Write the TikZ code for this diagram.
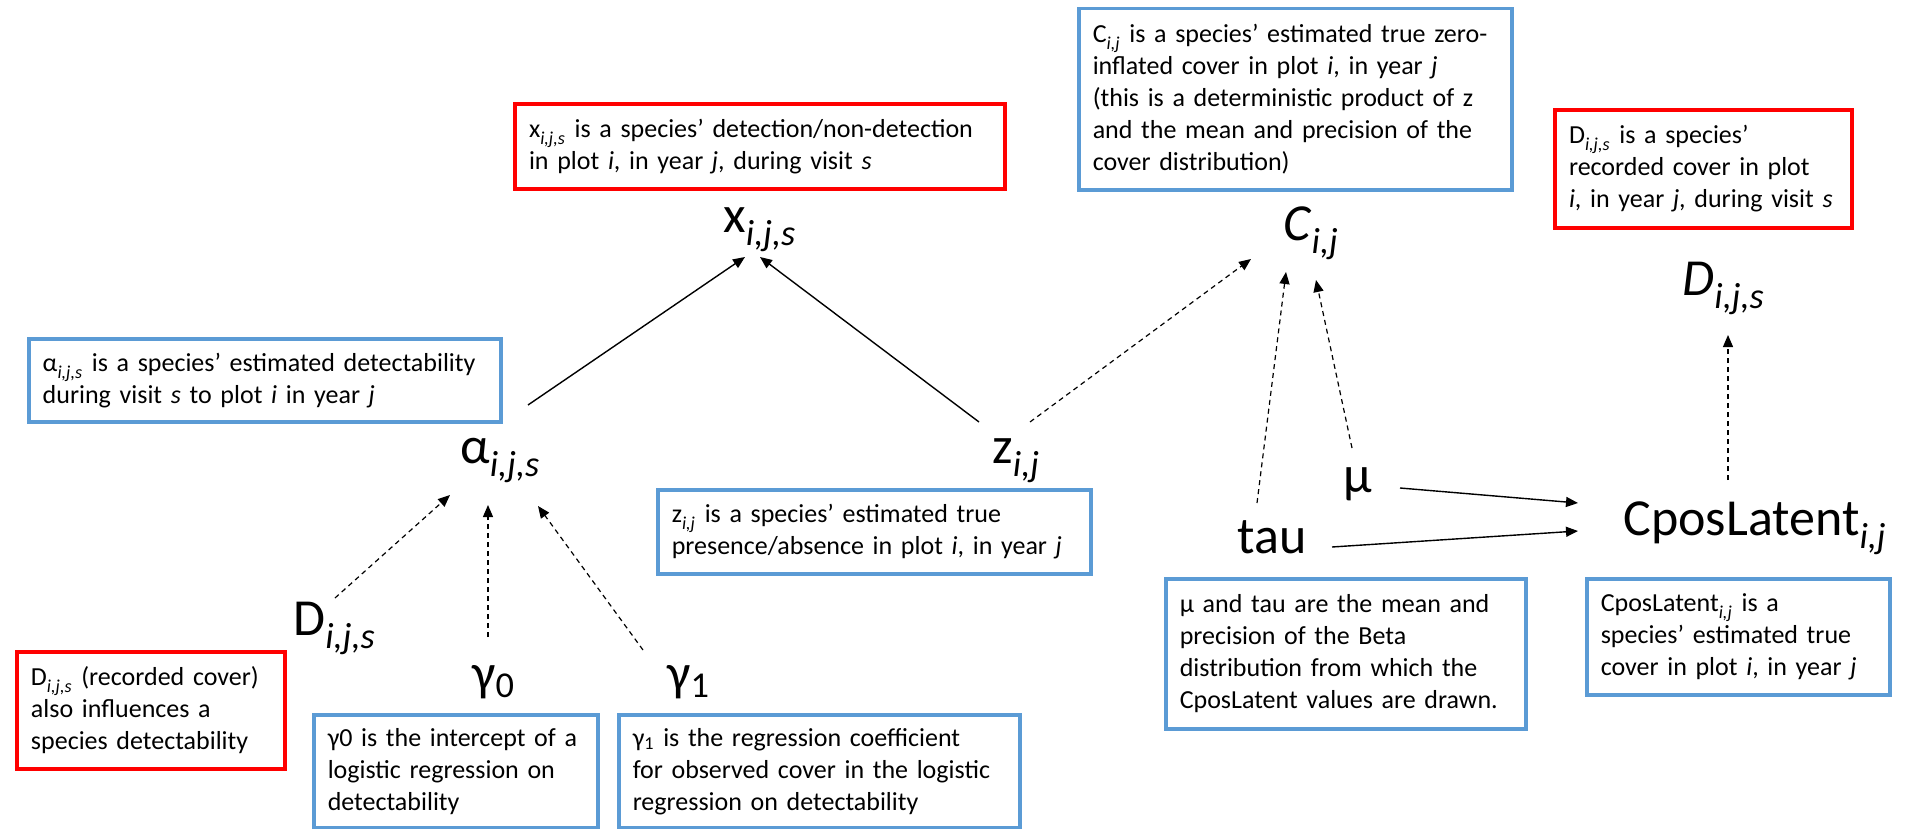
\documentclass[tikz,border=0pt]{standalone}
\usepackage{fontspec}
\setmainfont{Carlito}
\usepackage{tikz}
\usetikzlibrary{arrows.meta,calc}
\definecolor{boxblue}{HTML}{5B9BD5}
\definecolor{boxred}{HTML}{FF0000}
\newcommand{\ssub}[1]{\raisebox{-0.1em}{\textsubscript{\textit{#1}}}}
\newcommand{\subijs}{\ssub{i,j,s}}
\newcommand{\subij}{\ssub{i,j}}

\begin{document}
\begin{tikzpicture}[x=0.5pt, y=-0.5pt,
  >={Triangle[length=6pt, width=5pt]},
  var/.style={anchor=base west, inner sep=0pt, font=\fontsize{26}{30}\selectfont},
  desc/.style={anchor=north west, align=left, inner xsep=7pt, inner ysep=0pt, line width=1.75pt, font=\fontsize{13}{16}\selectfont},
  est/.style={desc, draw=boxblue},
  obs/.style={desc, draw=boxred, line width=2pt},
  dep/.style={->, line width=0.7pt},
  det/.style={->, line width=0.6pt, dash pattern=on 2.5pt off 2pt}]
\useasboundingbox (0,0) rectangle (1916,829);
% model variables
\node[var] (x) at (723,232) {x\subijs};
\node[var] (c) at (1283,240) {\textit{C}\subij};
\node[var] (dtop) at (1682,295) {\textit{D}\subijs};
\node[var] (alpha) at (460,463) {α\subijs};
\node[var] (z) at (992,463) {z\subij};
\node[var] (dleft) at (293,635) {D\subijs};
\node[var] (g0) at (472,690) {γ\textsubscript{0}};
\node[var] (g1) at (667,690) {γ\textsubscript{1}};
\node[var] (tau) at (1237,553) {tau};
\node[var] (mu) at (1343,492) {μ};
\node[var] (cpos) at (1623,535) {CposLatent\subij};
% descriptions
\node[obs, text width=231pt, minimum height=42.5pt] (xdesc) at (513,102) {x\subijs{} is a species' detection/non-detection\\in plot \textit{i}, in year \textit{j}, during visit \textit{s}};
\node[est, text width=202.5pt, minimum height=90.5pt] (cdesc) at (1077,7) {C\subij{} is a species' estimated true zero-\\inflated cover in plot \textit{i}, in year \textit{j}\\(this is a deterministic product of z\\and the mean and precision of the\\cover distribution)};
\node[obs, text width=134.5pt, minimum height=59pt] (ddesc) at (1553,108) {D\subijs{} is a species'\\recorded cover in plot\\\textit{i}, in year \textit{j}, during visit \textit{s}};
\node[est, text width=222pt, minimum height=41.5pt] (adesc) at (27,337) {α\subijs{} is a species' estimated detectability\\during visit \textit{s} to plot \textit{i} in year \textit{j}};
\node[est, text width=202.5pt, minimum height=42pt] (zdesc) at (656,488) {z\subij{} is a species' estimated true\\presence/absence in plot \textit{i}, in year \textit{j}};
\node[est, text width=166pt, minimum height=75pt] (mudesc) at (1164,577) {μ and tau are the mean and\\precision of the Beta\\distribution from which the\\CposLatent values are drawn.};
\node[est, text width=137.5pt, minimum height=58pt] (cposdesc) at (1585,577) {CposLatent\subij{} is a\\species' estimated true\\cover in plot \textit{i}, in year \textit{j}};
\node[obs, text width=120pt, minimum height=58.5pt] (dldesc) at (15,650) {D\subijs{} (recorded cover)\\also influences a\\species detectability};
\node[est, text width=128pt, minimum height=56.5pt] (g0desc) at (312,713) {γ0 is the intercept of a\\logistic regression on\\detectability};
\node[est, text width=186.5pt, minimum height=56.5pt] (g1desc) at (617,713) {γ\textsubscript{1} is the regression coefficient\\for observed cover in the logistic\\regression on detectability};
% dependencies
\draw[dep] ($(alpha.base west)+(68,-58)$) -- ($(x.base west)+(22,25)$);
\draw[dep] ($(z.base west)+(-13,-41)$) -- ($(x.base west)+(37,25)$);
\draw[det] ($(z.base west)+(38,-41)$) -- ($(c.base west)+(-32,19)$);
\draw[det] ($(tau.base west)+(20,-50)$) -- ($(c.base west)+(3,32)$);
\draw[det] ($(mu.base west)+(9,-44)$) -- ($(c.base west)+(33,40)$);
\draw[dep] ($(mu.base west)+(57,-4)$) -- ($(cpos.base west)+(-45,-32)$);
\draw[dep] ($(tau.base west)+(95,-6)$) -- ($(cpos.base west)+(-45,-4)$);
\draw[det] ($(cpos.base west)+(105,-55)$) -- ($(dtop.base west)+(46,40)$);
\draw[det] ($(dleft.base west)+(42,-37)$) -- ($(alpha.base west)+(-10,32)$);
\draw[det] ($(g0.base west)+(16,-53)$) -- ($(alpha.base west)+(28,42)$);
\draw[det] ($(g1.base west)+(-24,-40)$) -- ($(alpha.base west)+(78,43)$);
\end{tikzpicture}
\end{document}
